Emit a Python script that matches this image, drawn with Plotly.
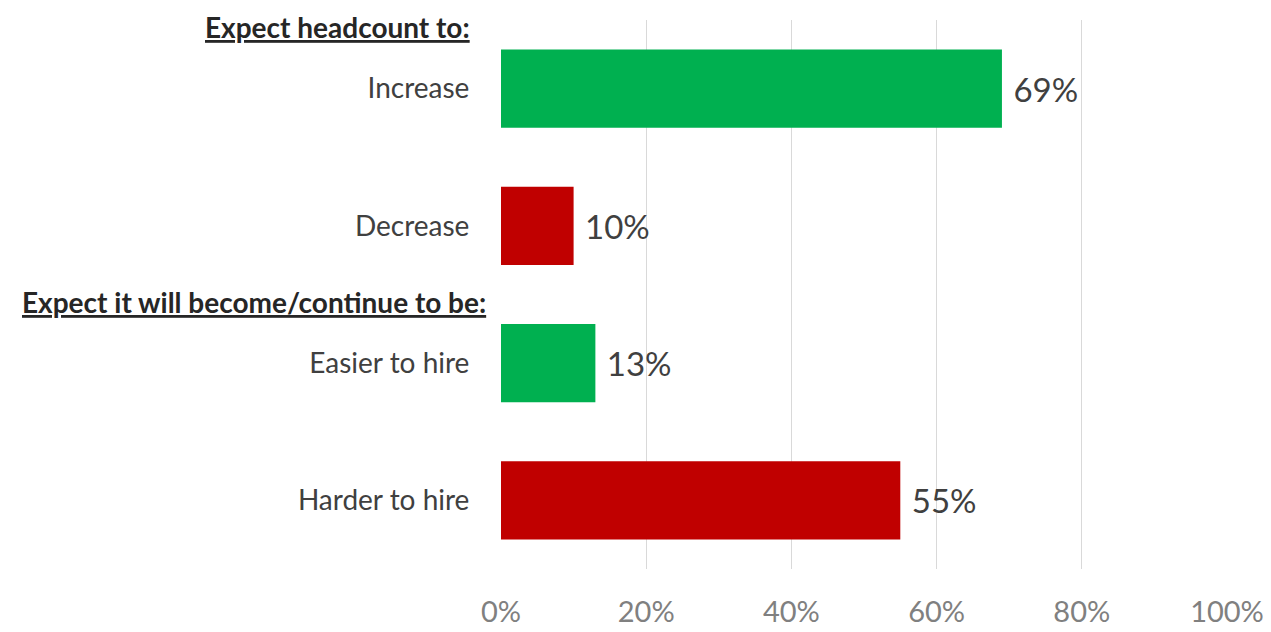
import plotly.graph_objects as go

categories = ["Increase", "Decrease", "Easier to hire", "Harder to hire"]
values = [69, 10, 13, 55]
colors = ["#00B050", "#C00000", "#00B050", "#C00000"]
headers = ["Expect headcount to:", "Expect it will become/continue to be:"]
x_ticks = [0, 20, 40, 60, 80, 100]
x_ticklabels = ["0%", "20%", "40%", "60%", "80%", "100%"]

W, H = 1271, 632
fig = go.Figure()
fig.add_trace(go.Bar(
    y=categories, x=values, orientation="h",
    marker=dict(color=colors, line=dict(width=0)),
    width=0.57,
    text=[f"\u00a0{v}%" for v in values], textposition="outside",
    textfont=dict(size=33, color="#404040", family="Lato"),
    cliponaxis=False,
))

l, r, t, b = 501, 44, 20, 63
ph = H - t - b
fig.update_layout(
    width=W, height=H,
    margin=dict(l=l, r=r, t=t, b=b, autoexpand=False),
    paper_bgcolor="white", plot_bgcolor="white",
    showlegend=False,
    font=dict(family="Lato", color="#404040"),
    xaxis=dict(range=[0, 100], tickvals=x_ticks, ticktext=x_ticklabels,
               showgrid=True, gridcolor="#D9D9D9", gridwidth=1,
               zeroline=False, showline=False, automargin=False,
               ticks="outside", ticklen=17, tickcolor="rgba(0,0,0,0)",
               tickfont=dict(size=29, color="#808080", family="Lato")),
    yaxis=dict(categoryorder="array", categoryarray=categories[::-1],
               range=[-0.5, 3.5], showgrid=False, zeroline=False, automargin=False,
               ticks="outside", ticklen=25, tickcolor="rgba(0,0,0,0)",
               tickfont=dict(size=28, color="#404040", family="Lato")),
)
fig.add_annotation(text=f"<b><u>{headers[0]}</u></b>", xref="paper", yref="paper",
                   x=-(501 - 472) / (W - l - r), y=1 - (27 - t) / ph,
                   xanchor="right", yanchor="middle",
                   showarrow=False, font=dict(size=28, color="#262626", family="Lato"))
fig.add_annotation(text=f"<b><u>{headers[1]}</u></b>", xref="paper", yref="paper",
                   x=-(501 - 488) / (W - l - r), y=1 - (302 - t) / ph,
                   xanchor="right", yanchor="middle",
                   showarrow=False, font=dict(size=28, color="#262626", family="Lato"))
fig.write_html("out.html")
